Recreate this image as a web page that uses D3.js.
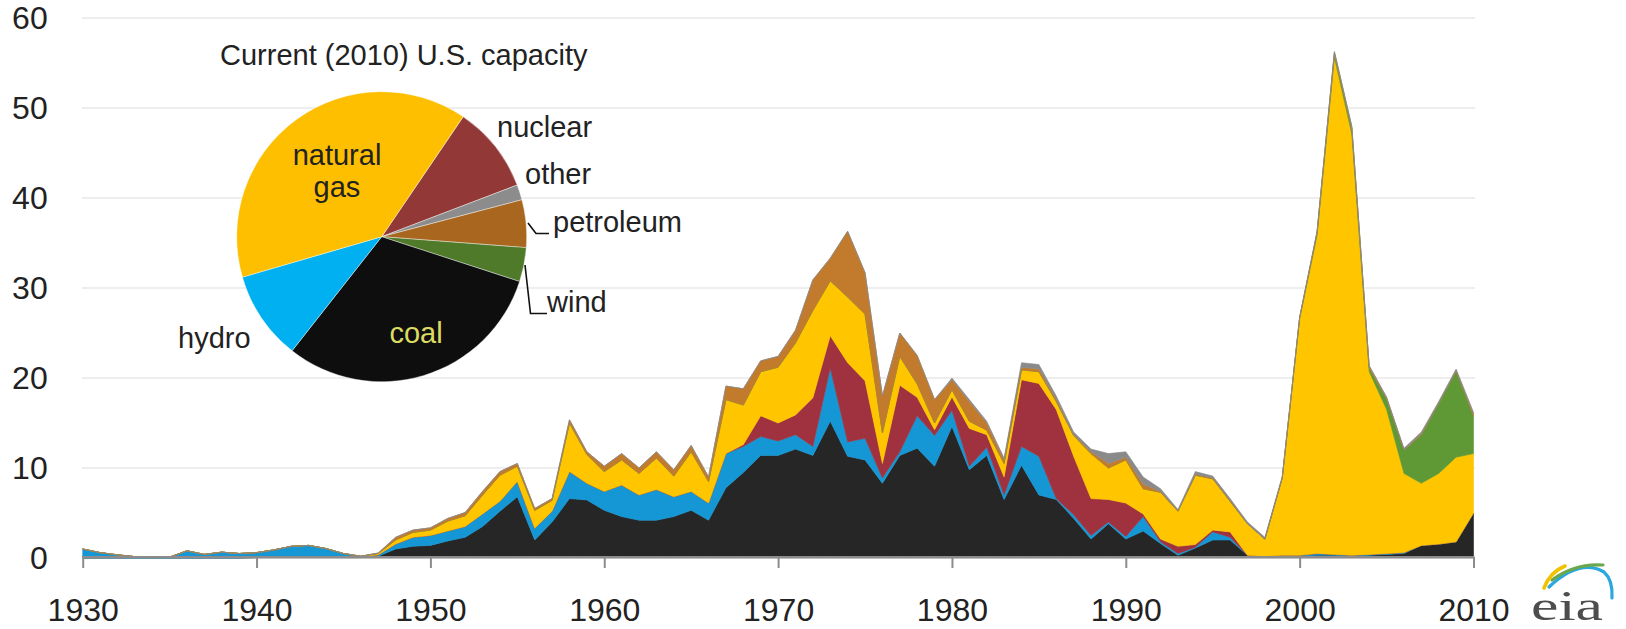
<!DOCTYPE html>
<html>
<head>
<meta charset="utf-8">
<script src="https://cdn.jsdelivr.net/npm/d3@7"></script>
<style>
  html, body { margin: 0; padding: 0; background: #fff; }
  svg { display: block; }
  text { font-family: "Liberation Sans", Arial, sans-serif; fill: #222; }
</style>
</head>
<body>
<svg id="chart" width="1626" height="629"></svg>
<script>
// ---------------- data ----------------
const years = [1930,1931,1932,1933,1934,1935,1936,1937,1938,1939,
  1940,1941,1942,1943,1944,1945,1946,1947,1948,1949,
  1950,1951,1952,1953,1954,1955,1956,1957,1958,1959,
  1960,1961,1962,1963,1964,1965,1966,1967,1968,1969,
  1970,1971,1972,1973,1974,1975,1976,1977,1978,1979,
  1980,1981,1982,1983,1984,1985,1986,1987,1988,1989,
  1990,1991,1992,1993,1994,1995,1996,1997,1998,1999,
  2000,2001,2002,2003,2004,2005,2006,2007,2008,2009,2010];

const coal = [0,0,0,0,0,0,0,0,0,0,
  0.05,0.1,0.15,0.2,0.1,0.05,0.05,0.2,1.0,1.3,
  1.4,1.9,2.3,3.5,5.2,6.8,2.0,4.0,6.6,6.45,
  5.3,4.6,4.2,4.2,4.6,5.3,4.2,7.8,9.5,11.4,
  11.4,12.1,11.4,15.2,11.3,10.9,8.3,11.4,12.2,10.2,
  14.6,9.8,11.4,6.5,10.3,7.0,6.5,4.4,2.1,3.8,
  2.1,3.0,1.6,0.3,1.1,2.0,2.0,0.3,0.2,0.2,
  0.2,0.3,0.3,0.1,0.3,0.4,0.5,1.4,1.55,1.8,5.0];

const hydro = [1.0,0.6,0.35,0.15,0.05,0.1,0.8,0.4,0.65,0.5,
  0.55,0.8,1.15,1.2,0.95,0.45,0.1,0.15,0.55,1.0,
  1.1,1.1,1.2,1.4,1.1,1.7,1.3,1.2,3.0,1.85,
  2.1,3.5,2.8,3.4,2.2,2.1,1.9,3.8,2.9,2.1,
  1.6,1.6,1.0,5.9,1.6,2.4,0.6,0.4,3.6,3.4,
  1.8,0.4,0.9,0.5,2.1,4.3,0.1,0.4,0.4,0.2,
  0.3,1.6,0.2,0.2,0.1,0.9,0.3,0,0,0.1,
  0.1,0.2,0.1,0.2,0.1,0.1,0.1,0,0,0,0];

const nuclear = [0,0,0,0,0,0,0,0,0,0,
  0,0,0,0,0,0,0,0,0,0,
  0,0,0,0,0,0,0,0,0,0,
  0,0,0,0,0,0,0,0,0.2,2.3,
  2.0,2.2,5.4,3.6,8.8,6.4,1.6,7.4,2.05,0.65,
  1.5,4.2,1.4,2.0,7.4,8.1,9.9,6.5,4.1,2.5,
  3.7,0.3,0.3,0.8,0.3,0.2,0.6,0,0,0,
  0,0,0,0,0,0,0,0,0,0,0];

const naturalGas = [0,0,0,0,0,0,0,0,0,0,
  0,0,0,0,0,0,0.05,0.15,0.45,0.55,
  0.6,1.1,1.2,2.1,2.9,1.7,2.0,1.2,5.4,3.2,
  2.2,2.8,2.4,3.5,2.3,4.4,2.4,6.0,4.4,4.9,
  6.2,8.0,9.7,6.1,7.3,7.4,3.4,3.2,1.5,0.75,
  0.8,0.8,0.5,1.5,1.1,1.3,0.9,2.3,5.0,3.5,
  4.8,2.8,5.2,3.9,7.7,5.7,3.4,3.5,1.9,8.6,
  26.3,35.3,55.2,46.8,20.3,16.0,8.8,6.9,7.85,9.4,6.6];

const wind = [0,0,0,0,0,0,0,0,0,0,
  0,0,0,0,0,0,0,0,0,0,
  0,0,0,0,0,0,0,0,0,0,
  0,0,0,0,0,0,0,0,0,0,
  0,0,0,0,0,0,0,0,0,0,
  0,0,0,0,0,0,0,0,0,0,
  0,0,0,0,0,0,0,0,0,0,
  0.1,0.3,0.4,0.6,0.4,1.2,2.6,5.4,7.8,9.6,4.2];

const petroleum = [0,0,0,0,0,0,0,0,0,0,
  0,0,0,0,0,0,0,0.05,0.3,0.25,
  0.25,0.3,0.35,0.4,0.4,0.3,0.2,0.2,0.35,0.3,
  0.6,0.7,0.6,0.7,0.7,0.7,0.5,1.5,1.8,1.2,
  1.2,1.4,3.4,2.5,7.3,4.6,4.1,2.6,3.15,2.6,
  1.1,2.2,0.8,0.4,0.3,0.3,0.2,0.1,0.2,0.5,
  0.3,0.5,0.1,0.05,0.1,0.1,0.1,0,0,0,
  0,0.1,0.2,0.2,0.2,0.1,0,0.1,0,0,0.2];

const other = [0,0,0,0,0,0,0,0,0,0,
  0,0,0,0,0,0,0,0,0,0,
  0,0,0,0,0,0,0,0,0,0,
  0,0,0,0,0,0,0,0,0,0,
  0,0,0,0,0,0,0,0,0,0,
  0.2,0.2,0.2,0.2,0.5,0.5,0.4,0.3,0.3,1.1,
  0.6,0.8,0.3,0.15,0.3,0.2,0.2,0.2,0.2,0.2,
  0.1,0.1,0.1,0.1,0.1,0.1,0.2,0.2,0.2,0.2,0.2];

const yTicks = [0,10,20,30,40,50,60];
const xTicks = [1930,1940,1950,1960,1970,1980,1990,2000,2010];

// pie: current (2010) capacity shares, percent
const pieLabels = ["nuclear","other","petroleum","wind","coal","hydro","natural gas"];
const pieValues = [9.7, 1.7, 5.3, 3.8, 30.6, 9.9, 39.0];

// ---------------- styling ----------------
const areaColors = {
  coal: "#262626", hydro: "#1497d4", nuclear: "#a0323f", naturalGas: "#ffc600",
  wind: "#5f9936", petroleum: "#c27a2d", other: "#8a8a8a"
};
const pieColors = {
  "nuclear": "#923836", "other": "#8c8c8c", "petroleum": "#a8661f", "wind": "#4e7a29",
  "coal": "#0e0e0e", "hydro": "#00b0f0", "natural gas": "#fdbf00"
};

const svg = d3.select("#chart");
const x = d3.scaleLinear().domain([1930, 2010]).range([82.7, 1473.5]);
const y = d3.scaleLinear().domain([0, 60]).range([558, 18]);

// gridlines
svg.append("g").selectAll("line").data(yTicks.filter(d => d > 0)).join("line")
  .attr("x1", 82).attr("x2", 1475)
  .attr("y1", d => y(d)).attr("y2", d => y(d))
  .attr("stroke", "#e8e8e8").attr("stroke-width", 1.6);

// stacked areas
const keys = ["coal","hydro","nuclear","naturalGas","wind","petroleum","other"];
const series = {coal, hydro, nuclear, naturalGas, wind, petroleum, other};
const table = years.map((yr, i) => {
  const row = {year: yr};
  keys.forEach(k => row[k] = series[k][i]);
  return row;
});
const stacked = d3.stack().keys(keys)(table);
const area = d3.area()
  .x(d => x(d.data.year))
  .y0(d => y(d[0]))
  .y1(d => y(d[1]))
  .curve(d3.curveLinear);

svg.append("g").selectAll("path").data(stacked).join("path")
  .attr("d", area)
  .attr("fill", d => areaColors[d.key])
  .attr("stroke", d => areaColors[d.key])
  .attr("stroke-width", 0.6)
  .attr("stroke-linejoin", "round");

// x axis
const xAxis = d3.axisBottom(x).tickValues(xTicks).tickFormat(d3.format("d"))
  .tickSize(11).tickPadding(30).tickSizeOuter(0);
const gx = svg.append("g").attr("transform", "translate(0,557)").call(xAxis);
gx.select(".domain").remove();
gx.selectAll(".tick line").attr("stroke", "#8c8c8c").attr("stroke-width", 2);
gx.selectAll(".tick text").style("font-size", "32px").attr("fill", "#222")
  .style("font-family", "'Liberation Sans', Arial, sans-serif");
svg.append("line").attr("x1", 82).attr("x2", 1474.5).attr("y1", 557).attr("y2", 557)
  .attr("stroke", "#8c8c8c").attr("stroke-width", 2);

// y axis labels
const yAxis = d3.axisLeft(y).tickValues(yTicks).tickSize(0).tickPadding(35);
const gy = svg.append("g").attr("transform", "translate(82.7,0)").call(yAxis);
gy.select(".domain").remove();
gy.selectAll(".tick text").style("font-size", "32px").attr("fill", "#222")
  .style("font-family", "'Liberation Sans', Arial, sans-serif");

// ---------------- inset pie ----------------
const cx = 381.7, cy = 236.7, R = 145;
const a0 = 34.2 * Math.PI / 180;
const pie = d3.pie().sort(null).value(d => d.v).startAngle(a0).endAngle(a0 + 2 * Math.PI);
const pieData = pie(pieLabels.map((l, i) => ({label: l, v: pieValues[i]})));
const arc = d3.arc().innerRadius(0).outerRadius(R);
const gp = svg.append("g").attr("transform", `translate(${cx},${cy})`);
gp.selectAll("path").data(pieData).join("path")
  .attr("d", arc)
  .attr("fill", d => pieColors[d.data.label])
  .attr("stroke", "#ffffff").attr("stroke-opacity", 0.5).attr("stroke-width", 0.8);

const fs = "29px";
svg.append("text").attr("x", 220).attr("y", 65).style("font-size", fs)
  .text("Current (2010) U.S. capacity");
svg.append("text").attr("x", 337).attr("y", 165).attr("text-anchor", "middle").style("font-size", fs).text("natural");
svg.append("text").attr("x", 337).attr("y", 197).attr("text-anchor", "middle").style("font-size", fs).text("gas");
svg.append("text").attr("x", 497).attr("y", 137).style("font-size", fs).text("nuclear");
svg.append("text").attr("x", 525).attr("y", 184).style("font-size", fs).text("other");
svg.append("text").attr("x", 553).attr("y", 232).style("font-size", fs).text("petroleum");
svg.append("text").attr("x", 547).attr("y", 312).style("font-size", fs).text("wind");
svg.append("text").attr("x", 416).attr("y", 343).attr("text-anchor", "middle").style("font-size", fs)
  .attr("fill", "#dcdc62").style("fill", "#dcdc62").text("coal");
svg.append("text").attr("x", 178).attr("y", 348).style("font-size", fs).text("hydro");

// leader lines
svg.append("path").attr("d", "M528,223 L536,233.5 L549,233.5")
  .attr("fill", "none").attr("stroke", "#111").attr("stroke-width", 1.6);
svg.append("path").attr("d", "M525,265 L530.5,313.5 L547,313.5")
  .attr("fill", "none").attr("stroke", "#111").attr("stroke-width", 1.6);

// ---------------- eia logo ----------------
const logo = svg.append("g");
logo.append("path").attr("d", "M1549,587 Q1580,558 1604,572 Q1613,580 1612,598")
  .attr("fill", "none").attr("stroke", "#2aa7df").attr("stroke-width", 3.2).attr("stroke-linecap", "round");
logo.append("path").attr("d", "M1552,580 Q1575,563 1603,565")
  .attr("fill", "none").attr("stroke", "#6aa84f").attr("stroke-width", 3.2).attr("stroke-linecap", "round");
logo.append("path").attr("d", "M1544,588 Q1550,572 1565,566")
  .attr("fill", "none").attr("stroke", "#f2c200").attr("stroke-width", 3.6).attr("stroke-linecap", "round");
logo.append("text").attr("x", 1531).attr("y", 620)
  .attr("textLength", 72).attr("lengthAdjust", "spacingAndGlyphs")
  .style("font-family", "'Liberation Serif', 'Times New Roman', serif")
  .style("font-size", "42px").style("fill", "#4d4d4d").text("eia");
</script>
</body>
</html>
